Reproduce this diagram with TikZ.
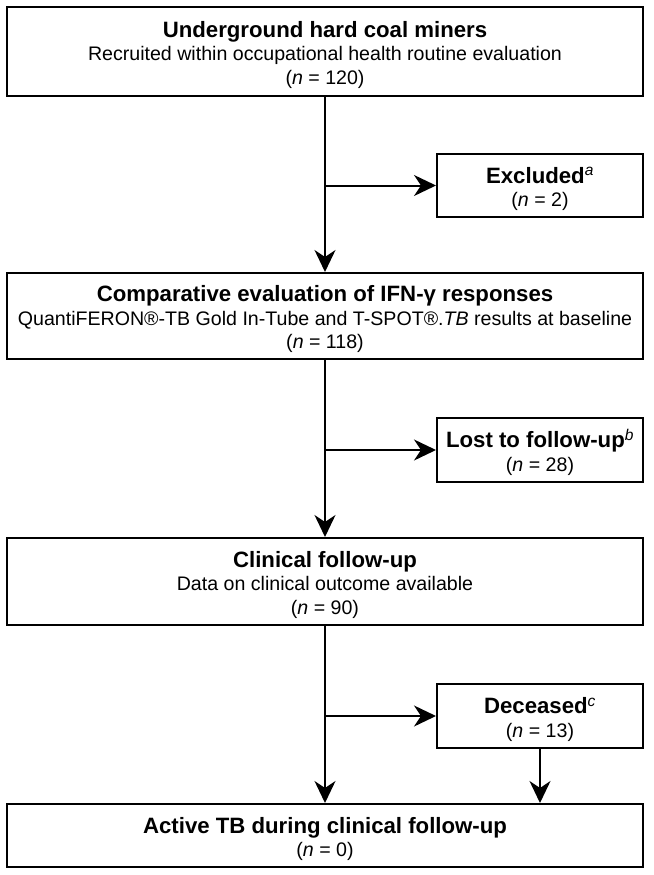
\documentclass[tikz,border=0pt]{standalone}
\usepackage{fontspec}
\setmainfont{Liberation Sans}
\usetikzlibrary{arrows.meta}

\tikzset{
  box/.style={draw, line width=2pt, inner sep=0pt, align=center,
    font=\fontsize{19.6}{23.5}\selectfont},
  widebox/.style={box, minimum width=636pt},
  sidebox/.style={box, minimum width=206pt, minimum height=64pt},
  arr/.style={line width=2pt, -{Stealth[length=22pt,width=21pt,inset=7pt]}}
}
% heading line; the strut lowers the text block a little
\newcommand{\boxhead}[1]{{\fontsize{22.2}{23.5}\selectfont\bfseries\rule{0pt}{23pt}#1}}
\newcommand{\ncount}[1]{(\textit{n} = #1)}
\newcommand{\fnmark}[1]{\textsuperscript{\normalfont\itshape #1}}

\begin{document}
\begin{tikzpicture}[x=1pt,y=-1pt]
  \useasboundingbox (0,0) rectangle (653,875);
  % main boxes
  \node[widebox, minimum height=89pt] (miners) at (325,51.5)
    {\boxhead{Underground hard coal miners}\\Recruited within occupational health routine evaluation\\\ncount{120}};
  \node[widebox, minimum height=86pt] (ifn) at (325,316)
    {\boxhead{Comparative evaluation of IFN-γ responses}\\QuantiFERON®-TB Gold In-Tube and T-SPOT®.\textit{TB} results at baseline\\\ncount{118}};
  \node[widebox, minimum height=87pt] (followup) at (325,581.5)
    {\boxhead{Clinical follow-up}\\Data on clinical outcome available\\\ncount{90}};
  \node[widebox, minimum height=63pt] (active) at (325,835.5)
    {\boxhead{Active TB during clinical follow-up}\\\ncount{0}};
  % side boxes
  \node[sidebox, minimum height=63pt] (excluded) at (540,185.5)
    {\boxhead{Excluded\fnmark{a}}\\\ncount{2}};
  \node[sidebox] (lost) at (540,450)
    {\boxhead{Lost to follow-up\fnmark{b}}\\\ncount{28}};
  \node[sidebox] (deceased) at (540,716)
    {\boxhead{Deceased\fnmark{c}}\\\ncount{13}};
  % connectors
  \draw[arr] (miners) -- (ifn);
  \draw[arr] (miners.south |- excluded.west) -- (excluded.west);
  \draw[arr] (ifn) -- (followup);
  \draw[arr] (ifn.south |- lost.west) -- (lost.west);
  \draw[arr] (followup) -- (active);
  \draw[arr] (followup.south |- deceased.west) -- (deceased.west);
  \draw[arr] (deceased) -- (deceased.south |- active.north);
\end{tikzpicture}
\end{document}
